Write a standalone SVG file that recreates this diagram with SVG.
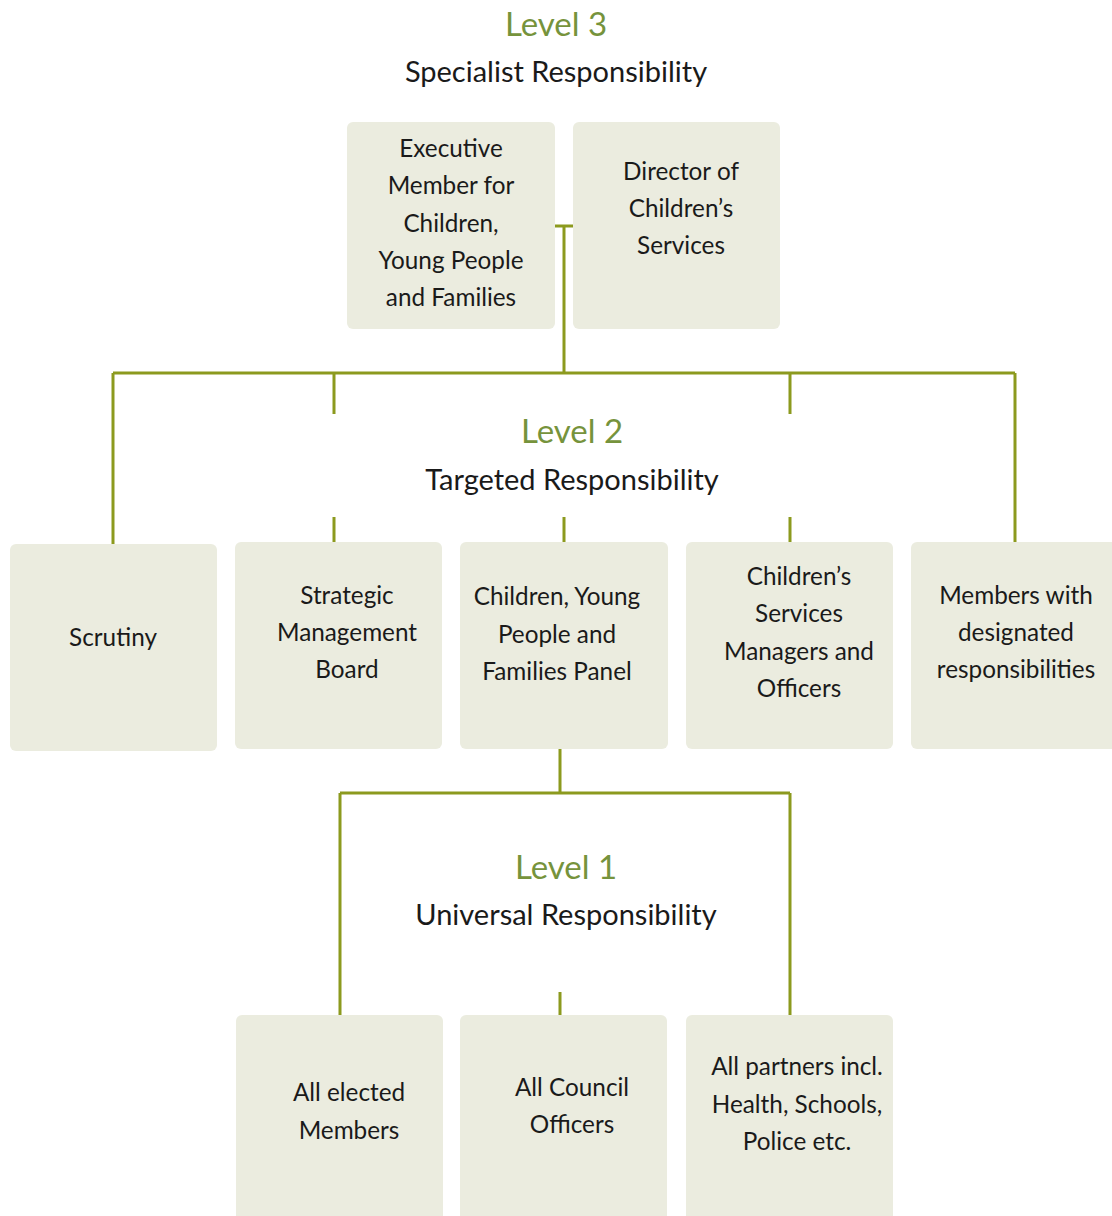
<svg xmlns="http://www.w3.org/2000/svg" width="1112" height="1216" viewBox="0 0 1112 1216">
<style>
.box{fill:#EBECDF;}
.t{font-family:Lato,"Liberation Sans",sans-serif;font-size:24.3px;fill:#1a1a1a;text-anchor:middle;}
.lv{font-family:Lato,"Liberation Sans",sans-serif;font-size:33px;fill:#76933C;text-anchor:middle;}
.sub{font-family:Lato,"Liberation Sans",sans-serif;font-size:29px;fill:#1a1a1a;text-anchor:middle;}
.c{stroke:#8C9A1E;stroke-width:3;fill:none;}
</style>
<rect width="1112" height="1216" fill="#FFFFFF"/>
<g id="connectors">
<path class="c" d="M555 226H573M564 226V373M113 373H1015M113 373V544M334 373V414M334 517V542M564 517V542M790 373V414M790 517V542M1015 373V542"/>
<path class="c" d="M560 749V793M340 793H790M340 793V1015M790 793V1015M560 992V1015"/>
</g>
<g id="level3-heading">
<text class="lv" x="556" y="36">Level 3</text>
<text class="sub" x="556" y="82">Specialist Responsibility</text>
</g>
<g id="level2-heading">
<text class="lv" x="572" y="443">Level 2</text>
<text class="sub" x="572" y="490">Targeted Responsibility</text>
</g>
<g id="level1-heading">
<text class="lv" x="566" y="879">Level 1</text>
<text class="sub" x="566" y="925">Universal Responsibility</text>
</g>
<g id="executive-member">
<rect class="box" x="347" y="122" width="208" height="207" rx="6"/>
<text class="t" x="451" y="157">Executive</text>
<text class="t" x="451" y="194">Member for</text>
<text class="t" x="451" y="232">Children,</text>
<text class="t" x="451" y="269">Young People</text>
<text class="t" x="451" y="306">and Families</text>
</g>
<g id="director">
<rect class="box" x="573" y="122" width="207" height="207" rx="6"/>
<text class="t" x="681" y="180">Director of</text>
<text class="t" x="681" y="217">Children’s</text>
<text class="t" x="681" y="254">Services</text>
</g>
<g id="scrutiny">
<rect class="box" x="10" y="544" width="207" height="207" rx="6"/>
<text class="t" x="113" y="646">Scrutiny</text>
</g>
<g id="strategic-management-board">
<rect class="box" x="235" y="542" width="207" height="207" rx="6"/>
<text class="t" x="347" y="604">Strategic</text>
<text class="t" x="347" y="641">Management</text>
<text class="t" x="347" y="678">Board</text>
</g>
<g id="cypf-panel">
<rect class="box" x="460" y="542" width="208" height="207" rx="6"/>
<text class="t" x="557" y="605">Children, Young</text>
<text class="t" x="557" y="643">People and</text>
<text class="t" x="557" y="680">Families Panel</text>
</g>
<g id="cs-managers">
<rect class="box" x="686" y="542" width="207" height="207" rx="6"/>
<text class="t" x="799" y="585">Children’s</text>
<text class="t" x="799" y="622">Services</text>
<text class="t" x="799" y="660">Managers and</text>
<text class="t" x="799" y="697">Officers</text>
</g>
<g id="members-designated">
<rect class="box" x="911" y="542" width="210" height="207" rx="6"/>
<text class="t" x="1016" y="604">Members with</text>
<text class="t" x="1016" y="641">designated</text>
<text class="t" x="1016" y="678">responsibilities</text>
</g>
<g id="all-elected-members">
<rect class="box" x="236" y="1015" width="207" height="215" rx="6"/>
<text class="t" x="349" y="1101">All elected</text>
<text class="t" x="349" y="1139">Members</text>
</g>
<g id="all-council-officers">
<rect class="box" x="460" y="1015" width="207" height="215" rx="6"/>
<text class="t" x="572" y="1096">All Council</text>
<text class="t" x="572" y="1133">Officers</text>
</g>
<g id="all-partners">
<rect class="box" x="686" y="1015" width="207" height="215" rx="6"/>
<text class="t" x="797" y="1075">All partners incl.</text>
<text class="t" x="797" y="1113">Health, Schools,</text>
<text class="t" x="797" y="1150">Police etc.</text>
</g>
</svg>
